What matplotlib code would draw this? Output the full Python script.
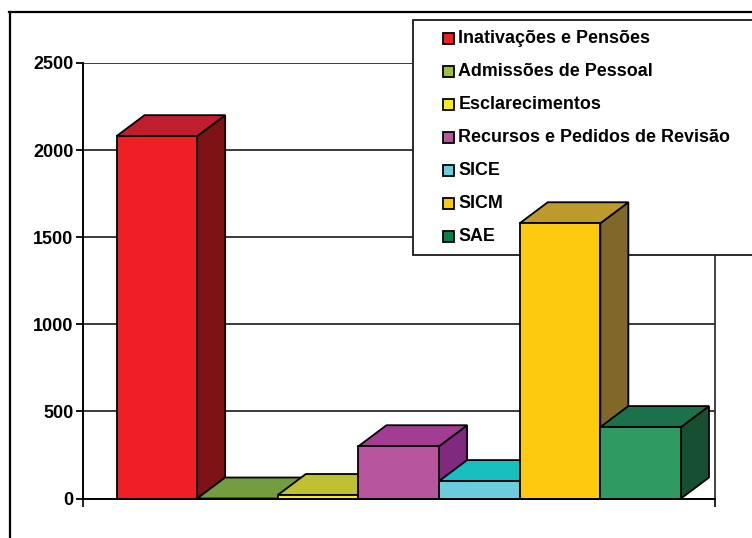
import matplotlib
matplotlib.use("Agg")
import matplotlib.pyplot as plt
from matplotlib.patches import Rectangle
from matplotlib.transforms import Affine2D

categories = ["Inativações e Pensões", "Admissões de Pessoal", "Esclarecimentos",
              "Recursos e Pedidos de Revisão", "SICE", "SICM", "SAE"]
values = [2080, 0, 20, 300, 100, 1580, 410]
front_colors = ["#ee2024", "#9bc13c", "#f7ec13", "#b7559f", "#6bccdd", "#fdca0e", "#2f9b63"]
top_colors = ["#be1e2d", "#729e3f", "#bfc02f", "#a33d94", "#17bfc1", "#bd9a2b", "#1c714b"]
side_colors = ["#7d1315", "#4f7a28", "#8c8a1a", "#7f297f", "#0f8a8c", "#7f682a", "#164f32"]
legend_colors = ["#ee2024", "#9bc13c", "#f7ec13", "#b7559f", "#6bccdd", "#fdca0e", "#0b8040"]
y_ticks = [0, 500, 1000, 1500, 2000, 2500]

W, H = 752, 538
plt.rcParams["font.family"] = ["Liberation Sans", "DejaVu Sans"]
fig = plt.figure(figsize=(W / 100, H / 100), dpi=100)

# axes box in pixels
left, right, top, bottom = 83, 715, 63, 498.5
ax = fig.add_axes([left / W, 1 - bottom / H, (right - left) / W, (bottom - top) / H])
ax.patch.set_alpha(0)

# one category is about 80.6 px wide, the 3d depth is 28 px across and 21 px up
px_x = 1 / 80.6
px_y = 2500 / (bottom - top)
dx = 28 * px_x
dy = 21 * px_y
ax.set_xlim(-0.5 - 33.5 * px_x, 6.5 + 34 * px_x)
ax.set_ylim(0, 2500)

ax.hlines(y_ticks[1:], ax.get_xlim()[0], ax.get_xlim()[1], color="#1a1a1a", lw=1.2, zorder=1)

for i, v in enumerate(values):
    x0, x1 = i - 0.5, i + 0.5
    z = 3 + i * 0.1
    ax.fill([x1, x1 + dx, x1 + dx, x1], [0, dy, v + dy, v], fc=side_colors[i], ec="black",
            lw=1.3, zorder=z, clip_on=False)
    ax.fill([x0, x0 + dx, x1 + dx, x1], [v, v + dy, v + dy, v], fc=top_colors[i], ec="black",
            lw=1.3, zorder=z, clip_on=False)
    ax.bar(i, v, width=1, fc=front_colors[i], ec="black", lw=1.3, zorder=z, clip_on=False)

ax.spines["top"].set_visible(False)
for s in ["left", "bottom"]:
    ax.spines[s].set_linewidth(1.4)
    ax.spines[s].set_zorder(5)
ax.spines["right"].set_linewidth(1.3)
ax.spines["right"].set_color("#333333")
ax.spines["right"].set_zorder(1)

ax.set_yticks(y_ticks)
ax.set_xticks([ax.get_xlim()[0], ax.get_xlim()[1]])
ax.set_xticklabels([])
ax.tick_params(axis="y", length=5, width=1.3, pad=2, labelsize=13)
ax.tick_params(axis="x", length=5.5, width=1.2)
for t in ax.get_yticklabels():
    t.set_fontweight("bold")

# outer frame of the chart area, left and top run off the picture
fig.add_artist(plt.Line2D([9.5 / W, 9.5 / W], [0, 1 - 12 / H], color="black", lw=1.6))
fig.add_artist(plt.Line2D([9 / W, 1], [1 - 12 / H, 1 - 12 / H], color="black", lw=1.6))

# legend sits over the grid but under the bars, laid out in picture pixels
px = Affine2D().scale(1, -1).translate(0, H)
ax.add_patch(Rectangle((413, 20), 345, 235, fc="white", ec="#1a1a1a", lw=1.3, zorder=2,
                       transform=px, clip_on=False))
for i, name in enumerate(categories):
    y = 38 + i * 33
    ax.add_patch(Rectangle((442.5, y - 5.5), 11, 11, fc=legend_colors[i], ec="black", lw=1.3,
                           zorder=2.1, transform=px, clip_on=False))
    ax.text(458.5, y + 0.5, name, fontsize=12.9, fontweight="bold", va="center", ha="left",
            zorder=2.1, transform=px, clip_on=False)

fig.savefig("out.png", dpi=100)
